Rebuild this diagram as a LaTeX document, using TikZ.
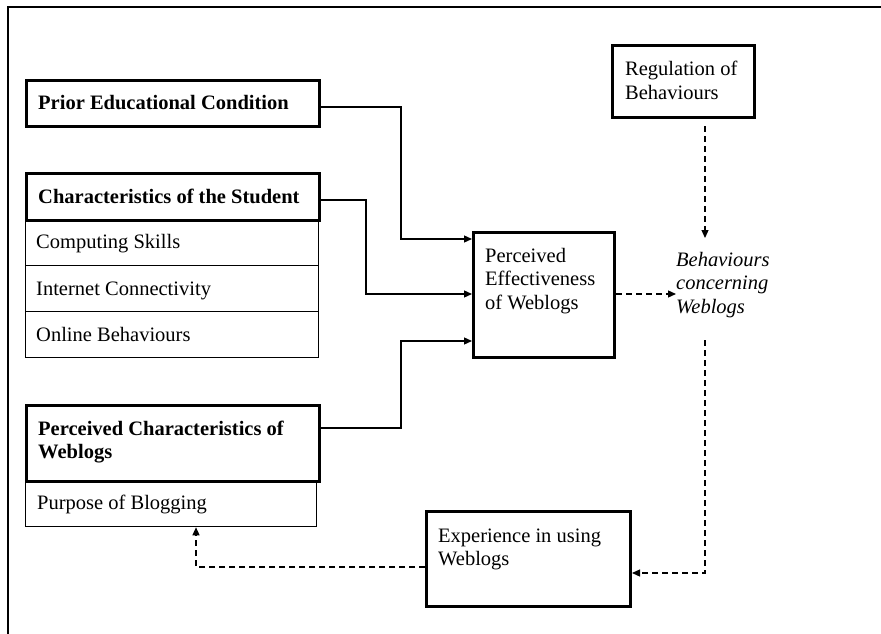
\documentclass[tikz,border=0pt]{standalone}
\usepackage{fontspec}
\setmainfont{Liberation Serif}
\usetikzlibrary{arrows.meta,calc}
\newcommand{\mlines}[1]{\begin{tabular}[t]{@{}l@{}}#1\end{tabular}}
\begin{document}
\begin{tikzpicture}[x=1pt,y=-1pt,
  thickbox/.style={draw,line width=3pt,fill=white,inner sep=0pt,anchor=north west},
  thinbox/.style={draw,line width=1.3pt,inner sep=0pt,anchor=north west},
  lbl/.style={inner sep=0pt,anchor=base west,font=\fontsize{20.5}{23.5}\selectfont},
  conn/.style={line width=1.3pt,-{Triangle[length=8pt,width=7pt]}},
  dconn/.style={conn,dash pattern=on 6pt off 4pt}]
\useasboundingbox (0,0) rectangle (881,634);
% frame
\draw[line width=2pt] (881,7) -- (8,7) -- (8,634);

% Prior Educational Condition
\node[thickbox,minimum width=293pt,minimum height=46pt] (prior) at (25,79) {};
\node[lbl] (priorT) at (38,110) {\textbf{Prior Educational Condition}};

% Characteristics of the Student
\node[thinbox,minimum width=293pt,minimum height=46pt] (cs1) at (25,219) {};
\node[thinbox,minimum width=293pt,minimum height=46pt] (cs2) at (25,265) {};
\node[thinbox,minimum width=293pt,minimum height=46pt] (cs3) at (25,311) {};
\node[thickbox,minimum width=293pt,minimum height=47pt] (chs) at (25,172) {};
\node[lbl] (chsT) at (38,203) {\textbf{Characteristics of the Student}};
\node[lbl] (cs1T) at (36,248) {Computing Skills};
\node[lbl] (cs2T) at (36,295) {Internet Connectivity};
\node[lbl] (cs3T) at (36,341) {Online Behaviours};

% Perceived Characteristics of Weblogs
\node[thinbox,minimum width=291pt,minimum height=46pt] (pob) at (25,480) {};
\node[thickbox,minimum width=293pt,minimum height=76pt] (pcw) at (25,404) {};
\node[lbl] (pcwT) at (38,435) {\mlines{\textbf{Perceived Characteristics of}\\\textbf{Weblogs}}};
\node[lbl] (pobT) at (37,509) {Purpose of Blogging};

% Perceived Effectiveness of Weblogs
\node[thickbox,minimum width=141pt,minimum height=125pt] (eff) at (472,231) {};
\node[lbl] (effT) at (485,262) {\mlines{Perceived\\Effectiveness\\of Weblogs}};

% Regulation of Behaviours
\node[thickbox,minimum width=142pt,minimum height=72pt] (reg) at (611,44) {};
\node[lbl] (regT) at (625,76) {\mlines{Regulation of\\Behaviours}};

% Behaviours concerning Weblogs
\node[lbl] (beh) at (676,266) {\mlines{\itshape Behaviours\\\itshape concerning\\\itshape Weblogs}};
\coordinate (behtop) at (705,238);
\coordinate (behbot) at (705,340);

% Experience in using Weblogs
\node[thickbox,minimum width=204pt,minimum height=95pt] (exp) at (425,510) {};
\node[lbl] (expT) at (438,542) {\mlines{Experience in using\\Weblogs}};

% connectors
\draw[conn] (prior.east |- 0,107) -| (401,239) -- (eff.west |- 0,239);
\draw[conn] (chs.east |- 0,200) -| (366,294) -- (eff.west |- 0,294);
\draw[conn] (pcw.east |- 0,428) -| (401,341) -- (eff.west |- 0,341);
\draw[dconn] (eff.east |- 0,294) -- (beh.west |- 0,294);
\draw[dconn] (reg.south -| behtop) ++(0,7) -- (behtop);
\draw[dconn] (behbot) |- (exp.east |- 0,573);
\draw[dconn] (exp.west |- 0,567) -| (pob.south -| 196,0);
\end{tikzpicture}
\end{document}
